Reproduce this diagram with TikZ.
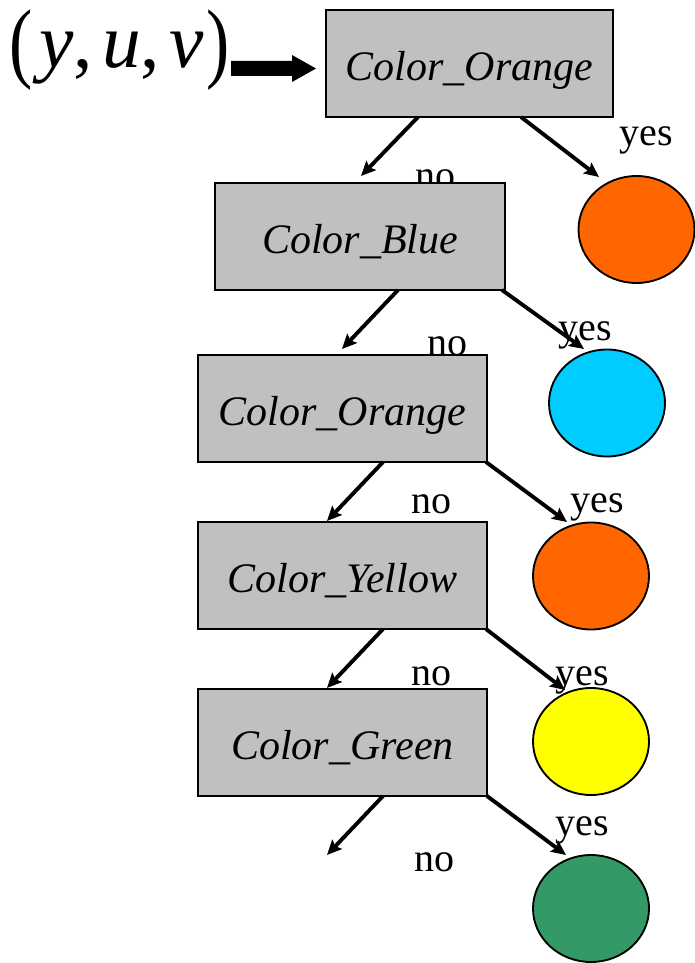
\documentclass[tikz,border=0pt]{standalone}
\usepackage{fontspec}
\usepackage{graphicx}
\setmainfont{Liberation Serif}
\usetikzlibrary{shapes.geometric,arrows.meta}
\definecolor{boxgray}{HTML}{C0C0C0}
\definecolor{leaforange}{HTML}{FF6600}
\definecolor{leafcyan}{HTML}{00CCFF}
\definecolor{leafyellow}{HTML}{FFFF00}
\definecolor{leafgreen}{HTML}{339966}
\newcommand{\tallparen}[1]{\raisebox{-3pt}{\scalebox{0.9}[1.15]{#1}}}
\tikzset{
  testbox/.style={draw=black, line width=1.6pt, fill=boxgray, rectangle, inner sep=0pt,
    text height=30pt, text depth=5.2pt,
    minimum height=80.25pt, font=\fontsize{31.5}{36}\selectfont\itshape},
  leaf/.style={draw=black, line width=1.4pt, ellipse, inner sep=0pt,
    minimum width=87pt, minimum height=80.25pt},
  lbl/.style={anchor=base, inner sep=0pt, font=\fontsize{30}{34}\selectfont},
  branch/.style={line width=2.9pt, -{Stealth[length=11pt,width=10pt,inset=2pt]}},
}
\begin{document}
\begin{tikzpicture}[x=0.75pt,y=-0.75pt]
\useasboundingbox (0,0) rectangle (694,963);
% input label and block arrow
\node[anchor=base west, inner sep=0pt, font=\fontsize{58}{64}\selectfont] (inp) at (9,68)
  {\tallparen{(}\hspace{5pt}\textit{y},\hspace{7pt}\textit{u},\hspace{7pt}\textit{v}\hspace{2pt}\tallparen{)}};
\fill[black] (231,61) -- (292,61) -- (292,55) -- (316,68.5) -- (292,82) -- (292,76) -- (231,76) -- cycle;
% labels (drawn first so boxes and arrows lie on top)
\node[lbl] (no1) at (435,189) {no};
\node[lbl] (yes1) at (646,146) {yes};
\node[lbl] (no2) at (447,355) {no};
\node[lbl] (yes2) at (585,340) {yes};
\node[lbl] (no3) at (431,513) {no};
\node[lbl] (yes3) at (597,512) {yes};
\node[lbl] (no4) at (431,685) {no};
\node[lbl] (yes4) at (582,685) {yes};
\node[lbl] (no5) at (434,871) {no};
\node[lbl] (yes5) at (582,835) {yes};
% leaves
\node[leaf, fill=leaforange] (c1) at (636.5,229.5) {};
\node[leaf, fill=leafcyan] (c2) at (607,403) {};
\node[leaf, fill=leaforange] (c3) at (591,576) {};
\node[leaf, fill=leafyellow] (c4) at (591,741.5) {};
\node[leaf, fill=leafgreen] (c5) at (591,908.5) {};
% boxes
\node[testbox, minimum width=215.25pt] (b1) at (469.5,63.5) {Color\_Orange};
\node[testbox, minimum width=217.5pt] (b2) at (360,236.5) {Color\_Blue};
\node[testbox, minimum width=216.75pt] (b3) at (342.5,408.5) {Color\_Orange};
\node[testbox, minimum width=216.75pt] (b4) at (342.5,575.5) {Color\_Yellow};
\node[testbox, minimum width=216.75pt] (b5) at (342.5,742.5) {Color\_Green};
% arrow endpoints
\coordinate (s1n) at (418,117); \coordinate (s1y) at (521,117);
\coordinate (s2n) at (398,290); \coordinate (s2y) at (502,290);
\coordinate (s3n) at (383,462); \coordinate (s3y) at (486,462);
\coordinate (s4n) at (383,629); \coordinate (s4y) at (486,629);
\coordinate (s5n) at (383,796); \coordinate (s5y) at (487,796);
\coordinate (e1n) at (361,176); \coordinate (e1y) at (599,177);
\coordinate (e2n) at (342,349); \coordinate (e2y) at (584,349);
\coordinate (e3n) at (327,521); \coordinate (e3y) at (567,522);
\coordinate (e4n) at (327,688); \coordinate (e4y) at (565,690);
\coordinate (e5n) at (327,855); \coordinate (e5y) at (566,855);
% branches
\draw[branch] (s1n) -- (e1n);
\draw[branch] (s1y) -- (e1y);
\draw[branch] (s2n) -- (e2n);
\draw[branch] (s2y) -- (e2y);
\draw[branch] (s3n) -- (e3n);
\draw[branch] (s3y) -- (e3y);
\draw[branch] (s4n) -- (e4n);
\draw[branch] (s4y) -- (e4y);
\draw[branch] (s5n) -- (e5n);
\draw[branch] (s5y) -- (e5y);
\end{tikzpicture}
\end{document}
